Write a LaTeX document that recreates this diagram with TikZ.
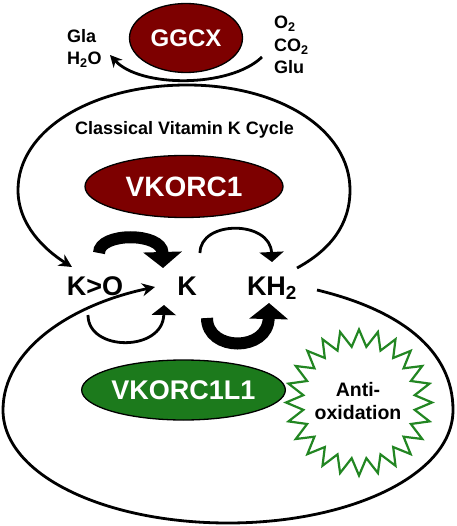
\documentclass[tikz,border=0pt]{standalone}
\usepackage{fontspec}
\setmainfont{Liberation Sans}
\usetikzlibrary{arrows.meta,shapes.geometric}
\definecolor{dred}{RGB}{125,0,0}
\definecolor{dgreen}{RGB}{28,122,28}
\definecolor{sgreen}{RGB}{34,134,34}
\begin{document}
\begin{tikzpicture}[x=1pt,y=-1pt,
  enz/.style={ellipse,draw=black,line width=1.3pt,inner sep=0pt,text=white},
  lbl/.style={font=\bfseries\fontsize{18}{22}\selectfont,inner sep=0pt,anchor=base west},
  big/.style={font=\bfseries\fontsize{27}{27}\selectfont,inner sep=0pt,anchor=base},
  loopline/.style={line width=2.8pt},
  looparrow/.style={line width=2.8pt,-{Stealth[length=13pt,width=13pt]}},
  thinarrow/.style={line width=2.8pt,-{Triangle[length=10pt,width=24pt]}},
  thickarrow/.style={line width=12pt,-{Triangle[length=16pt,width=38pt]}}]
\useasboundingbox (0,0) rectangle (456,526);

% enzymes
\node[enz,fill=dred,minimum width=113pt,minimum height=69pt,
  font=\bfseries\fontsize{24}{24}\selectfont] (ggcx) at (186,38) {GGCX};
\node[enz,fill=dred,minimum width=198pt,minimum height=62pt,
  font=\bfseries\fontsize{28}{28}\selectfont] (vkorc1) at (184,186.5) {VKORC1};
\node[enz,fill=dgreen,minimum width=197pt,minimum height=60pt,
  font=\bfseries\fontsize{27}{27}\selectfont] (vkorc1l1) at (183.5,390) {VKORC1L1};

% GGCX substrates/products
\node[lbl] (gla) at (67,43) {Gla};
\node[lbl] (h2o) at (67,65) {H\textsubscript{2}O};
\node[lbl] (o2) at (274,29) {O\textsubscript{2}};
\node[lbl] (co2) at (274,52) {CO\textsubscript{2}};
\node[lbl] (glu) at (274,74) {Glu};
\coordinate (gstart) at (262,57);
\coordinate (gend) at (110,55);
\draw[looparrow,-{Stealth[length=12pt,width=12pt]}] (gstart) .. controls (230,88) and (140,88) .. (gend);

% cycle title
\node[font=\bfseries\fontsize{18}{18}\selectfont,inner sep=0pt] (title) at (184.5,130) {Classical Vitamin K Cycle};

% vitamin K forms
\node[big] (ko) at (95,295) {K>O};
\node[big] (k) at (187,295) {K};
\node[big] (kh) at (272,295) {KH\textsubscript{2}};

% classical cycle loop
\coordinate (cstart) at (297,268);
\coordinate (cend) at (72,267);
\draw[looparrow] (cstart) .. controls (330,250) and (350,225) .. (350,190)
  .. controls (350,130) and (280,85) .. (187,85)
  .. controls (92,85) and (18,130) .. (18,190)
  .. controls (18,225) and (45,250) .. (cend);

% lower loop
\coordinate (lstart) at (317,290);
\coordinate (lend) at (155,287);
\draw[looparrow] (lstart) .. controls (400,310) and (453,350) .. (453,410)
  .. controls (453,475) and (350,523) .. (228,523)
  .. controls (105,523) and (3,475) .. (3,410)
  .. controls (3,350) and (70,305) .. (lend);

% reaction arrows
\coordinate (a1s) at (99,253);  \coordinate (a1e) at (163,268);
\coordinate (a2s) at (200,253); \coordinate (a2e) at (272,262);
\coordinate (a3s) at (88,315);  \coordinate (a3e) at (164,305);
\coordinate (a4s) at (207,318); \coordinate (a4e) at (269,303);
\draw[thickarrow] (a1s) .. controls (99,232) and (162,232) .. (a1e);
\draw[thinarrow] (a2s) .. controls (200,220) and (270,220) .. (a2e);
\draw[thinarrow] (a3s) .. controls (88,352) and (163,352) .. (a3e);
\draw[thickarrow] (a4s) .. controls (207,352) and (268,352) .. (a4e);

% anti-oxidation starburst
\node[star,star points=24,star point ratio=1.3,minimum size=146pt,inner sep=0pt,
  draw=sgreen,line width=2.2pt,fill=white] (burst) at (359,402.5) {};
\node[font=\bfseries\fontsize{19.5}{23}\selectfont,align=center,inner sep=0pt] (antitext) at (358,401) {Anti-\\oxidation};
\end{tikzpicture}
\end{document}
